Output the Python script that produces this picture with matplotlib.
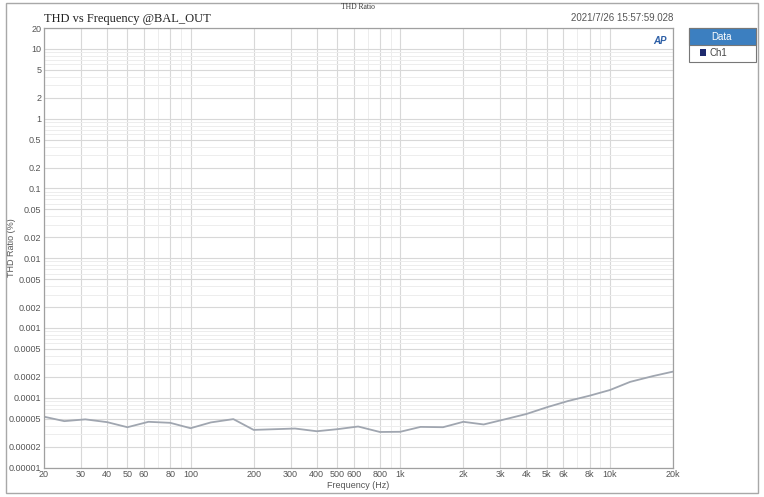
import matplotlib.pyplot as plt
from matplotlib.patches import Rectangle
from matplotlib.ticker import FixedLocator, NullFormatter

# Dados (frequência em Hz, THD em %)
freq = [20, 25, 31.5, 40, 50, 63, 80, 100, 125, 160, 200, 315, 400, 500, 630, 800,
        1000, 1250, 1600, 2000, 2500, 3150, 4000, 5000, 6300, 8000, 10000, 12500,
        16000, 20000]
thd = [5.35e-5, 4.62e-5, 4.9e-5, 4.47e-5, 3.78e-5, 4.52e-5, 4.37e-5, 3.66e-5,
       4.43e-5, 4.94e-5, 3.46e-5, 3.62e-5, 3.31e-5, 3.54e-5, 3.87e-5, 3.23e-5,
       3.25e-5, 3.82e-5, 3.78e-5, 4.52e-5, 4.14e-5, 4.9e-5, 5.85e-5, 7.3e-5,
       8.96e-5, 1.07e-4, 1.29e-4, 1.69e-4, 2.04e-4, 2.37e-4]

xticks = [20, 30, 40, 50, 60, 80, 100, 200, 300, 400, 500, 600, 800, 1000,
          2000, 3000, 4000, 5000, 6000, 8000, 10000, 20000]
xlabels = ['20', '30', '40', '50', '60', '80', '100', '200', '300', '400', '500',
           '600', '800', '1k', '2k', '3k', '4k', '5k', '6k', '8k', '10k', '20k']
yticks = [20, 10, 5, 2, 1, 0.5, 0.2, 0.1, 0.05, 0.02, 0.01, 0.005, 0.002, 0.001,
          0.0005, 0.0002, 0.0001, 0.00005, 0.00002, 0.00001]
ylabels = ['20', '10', '5', '2', '1', '0.5', '0.2', '0.1', '0.05', '0.02', '0.01',
           '0.005', '0.002', '0.001', '0.0005', '0.0002', '0.0001', '0.00005',
           '0.00002', '0.00001']

plt.rcParams['font.family'] = ['Liberation Sans', 'DejaVu Sans']

fig = plt.figure(figsize=(7.64, 4.97), dpi=100)
ax = fig.add_axes([44/764, 1 - 467.5/497, 629/764, 439.5/497])

# borda externa cinza
fig.patches.append(Rectangle((6/764, 4/497), 752/764, 490/497, transform=fig.transFigure,
                             fill=False, edgecolor='#a8a8a8', linewidth=1))

ax.plot(freq, thd, color='#a0a6b0', linewidth=1.3)

ax.set_xscale('log')
ax.set_yscale('log')
ax.set_xlim(20, 20000)
ax.set_ylim(0.00001, 20)

ax.xaxis.set_major_locator(FixedLocator(xticks))
ax.set_xticklabels(xlabels)
ax.yaxis.set_major_locator(FixedLocator(yticks))
ax.set_yticklabels(ylabels)
ax.xaxis.set_minor_locator(FixedLocator([70, 90, 700, 900, 7000, 9000]))
ax.xaxis.set_minor_formatter(NullFormatter())
yminor = []
for d in [1e-5, 1e-4, 1e-3, 1e-2, 1e-1, 1, 10]:
    for m in [3, 4, 6, 7, 8, 9]:
        if d * m < 20:
            yminor.append(d * m)
ax.yaxis.set_minor_locator(FixedLocator(yminor))
ax.yaxis.set_minor_formatter(NullFormatter())

ax.grid(True, which='major', color='#d8d8d8', linewidth=0.8)
ax.grid(True, which='minor', color='#ededed', linewidth=0.7)
ax.set_axisbelow(True)
ax.tick_params(which='both', length=0, labelsize=6.5, labelcolor='#555555', pad=2)
for s in ax.spines.values():
    s.set_color('#a0a0a0')
    s.set_linewidth(0.9)

ax.set_xlabel('Frequency (Hz)', fontsize=6.5, color='#555555', labelpad=1)
ax.set_ylabel('THD Ratio (%)', fontsize=6.5, color='#555555')
ax.yaxis.set_label_coords(-28/629, 0.5)

fig.text(358/764, 1 - 7/497, 'THD Ratio', fontsize=5.5, family='Liberation Serif',
         ha='center', va='center', color='#333333')
fig.text(44/764, 1 - 19/497, 'THD vs Frequency @BAL_OUT', fontsize=9,
         family='Liberation Serif', ha='left', va='center', color='#222222')
fig.text(673/764, 1 - 18/497, '2021/7/26 15:57:59.028', fontsize=7,
         ha='right', va='center', color='#555555')
fig.text(660/764, 1 - 41/497, 'AP', fontsize=7, style='italic', weight='bold',
         ha='center', va='center', color='#2d5fa6')

# caixa da legenda
fig.patches.append(Rectangle((689/764, 1 - 62/497), 67/764, 34/497, transform=fig.transFigure,
                             facecolor='white', edgecolor='#777777', linewidth=0.8))
fig.patches.append(Rectangle((689/764, 1 - 45/497), 67/764, 17/497, transform=fig.transFigure,
                             facecolor='#3c7fc0', edgecolor='#777777', linewidth=0.8))
fig.text(722/764, 1 - 36.5/497, 'Data', fontsize=7, color='white', ha='center', va='center')
fig.patches.append(Rectangle((700/764, 1 - 56/497), 6/764, 7/497, transform=fig.transFigure,
                             facecolor='#1f2a6e', edgecolor='none'))
fig.text(709/764, 1 - 52.5/497, 'Ch1', fontsize=7, color='#444444', ha='left', va='center')

fig.savefig('out.png', dpi=100)
